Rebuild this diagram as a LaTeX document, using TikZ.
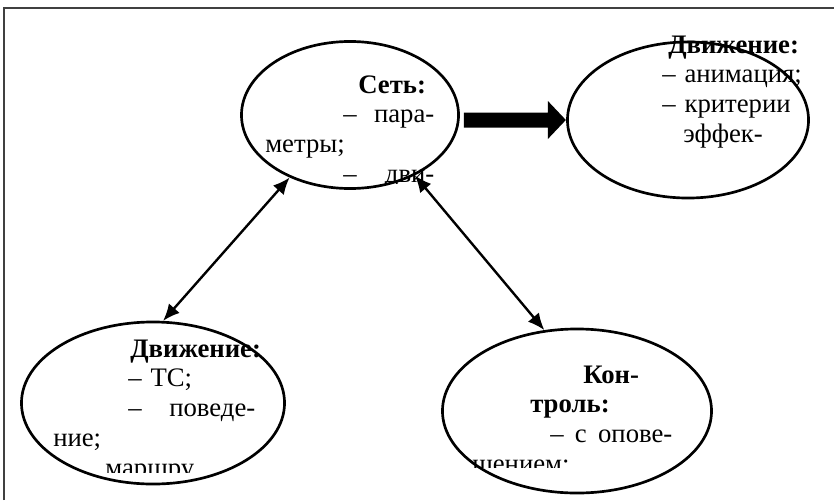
\documentclass[tikz,border=0pt]{standalone}
\usepackage{fontspec}
\setmainfont{Liberation Serif}
\usepackage{tikz}
\usetikzlibrary{arrows.meta,shapes.geometric}

\tikzset{
	oval/.style={draw, ellipse, line width=1.9pt, inner sep=0pt},
	txt/.style={font=\fontsize{19}{21.2}\selectfont, align=left, anchor=base west, inner sep=0pt},
	link/.style={line width=1.7pt, {Latex[length=0.42cm,width=0.36cm]}-{Latex[length=0.42cm,width=0.36cm]}}
}

\begin{document}
\begin{tikzpicture}[x=0.025cm, y=-0.025cm]
	\useasboundingbox (0,0) rectangle (834,500);
	\draw[line width=1.2pt, black!75] (4,500) -- (4,8) -- (834,8);
	%
	\node[oval, minimum width=5.425cm, minimum height=3.675cm] (set) at (350,115) {};
	\node[oval, minimum width=6.025cm, minimum height=3.9cm] (anim) at (688,120) {};
	\node[oval, minimum width=6.575cm, minimum height=4.05cm] (mov) at (153,403) {};
	\node[oval, minimum width=6.725cm, minimum height=4.1cm] (ctrl) at (577,411) {};
	%
	\begin{scope}
		\clip (255,30) rectangle (445,183);
		\node[txt, text width=4.225cm] (settxt) at (265,93) {\hspace*{2.325cm}\textbf{Сеть:}\\
			\hspace*{1.95cm}–\hfill пара-\\
			метры;\\
			\hspace*{1.95cm}–\hfill дви-};
	\end{scope}
	\node[txt, text width=3.6cm] (animtxt) at (662,53) {\hspace*{0.15cm}\textbf{Движение:}\\
		– анимация;\\
		– критерии\\
		\hspace*{0.525cm}эффек-};
	\begin{scope}
		\clip (40,320) rectangle (270,472);
		\node[txt, text width=5.05cm] (movtxt) at (53,357) {\hspace*{1.925cm}\textbf{Движение:}\\
			\hspace*{1.875cm}– ТС;\\
			\hspace*{1.875cm}–\hfill поведе-\\
			ние;\\
			\hspace*{1.3cm}маршру};
	\end{scope}
	\begin{scope}
		\clip (460,340) rectangle (690,467.5);
		\node[txt, text width=5cm] (ctrltxt) at (472,383) {\hspace*{2.775cm}\textbf{Кон-}\\
			\hspace*{1.45cm}\textbf{троль:}\\
			\hspace*{1.95cm}–\hfill с\hfill опове-\\
			щением;};
	\end{scope}
	%
	\coordinate (tail) at ([xshift=0.1cm]set.east |- anim.west);
	\fill (tail) ++(0,-7.5) -- ++(84,0) -- ++(0,-11.5) -- ++(18,19) -- ++(-18,19) -- ++(0,-11.5) -- ++(-84,0) -- cycle;
	%
	\draw[link] (set.226.4) -- (mov.83.6);
	\draw[link] (set.317.6) -- (ctrl.112.6);
\end{tikzpicture}
\end{document}
